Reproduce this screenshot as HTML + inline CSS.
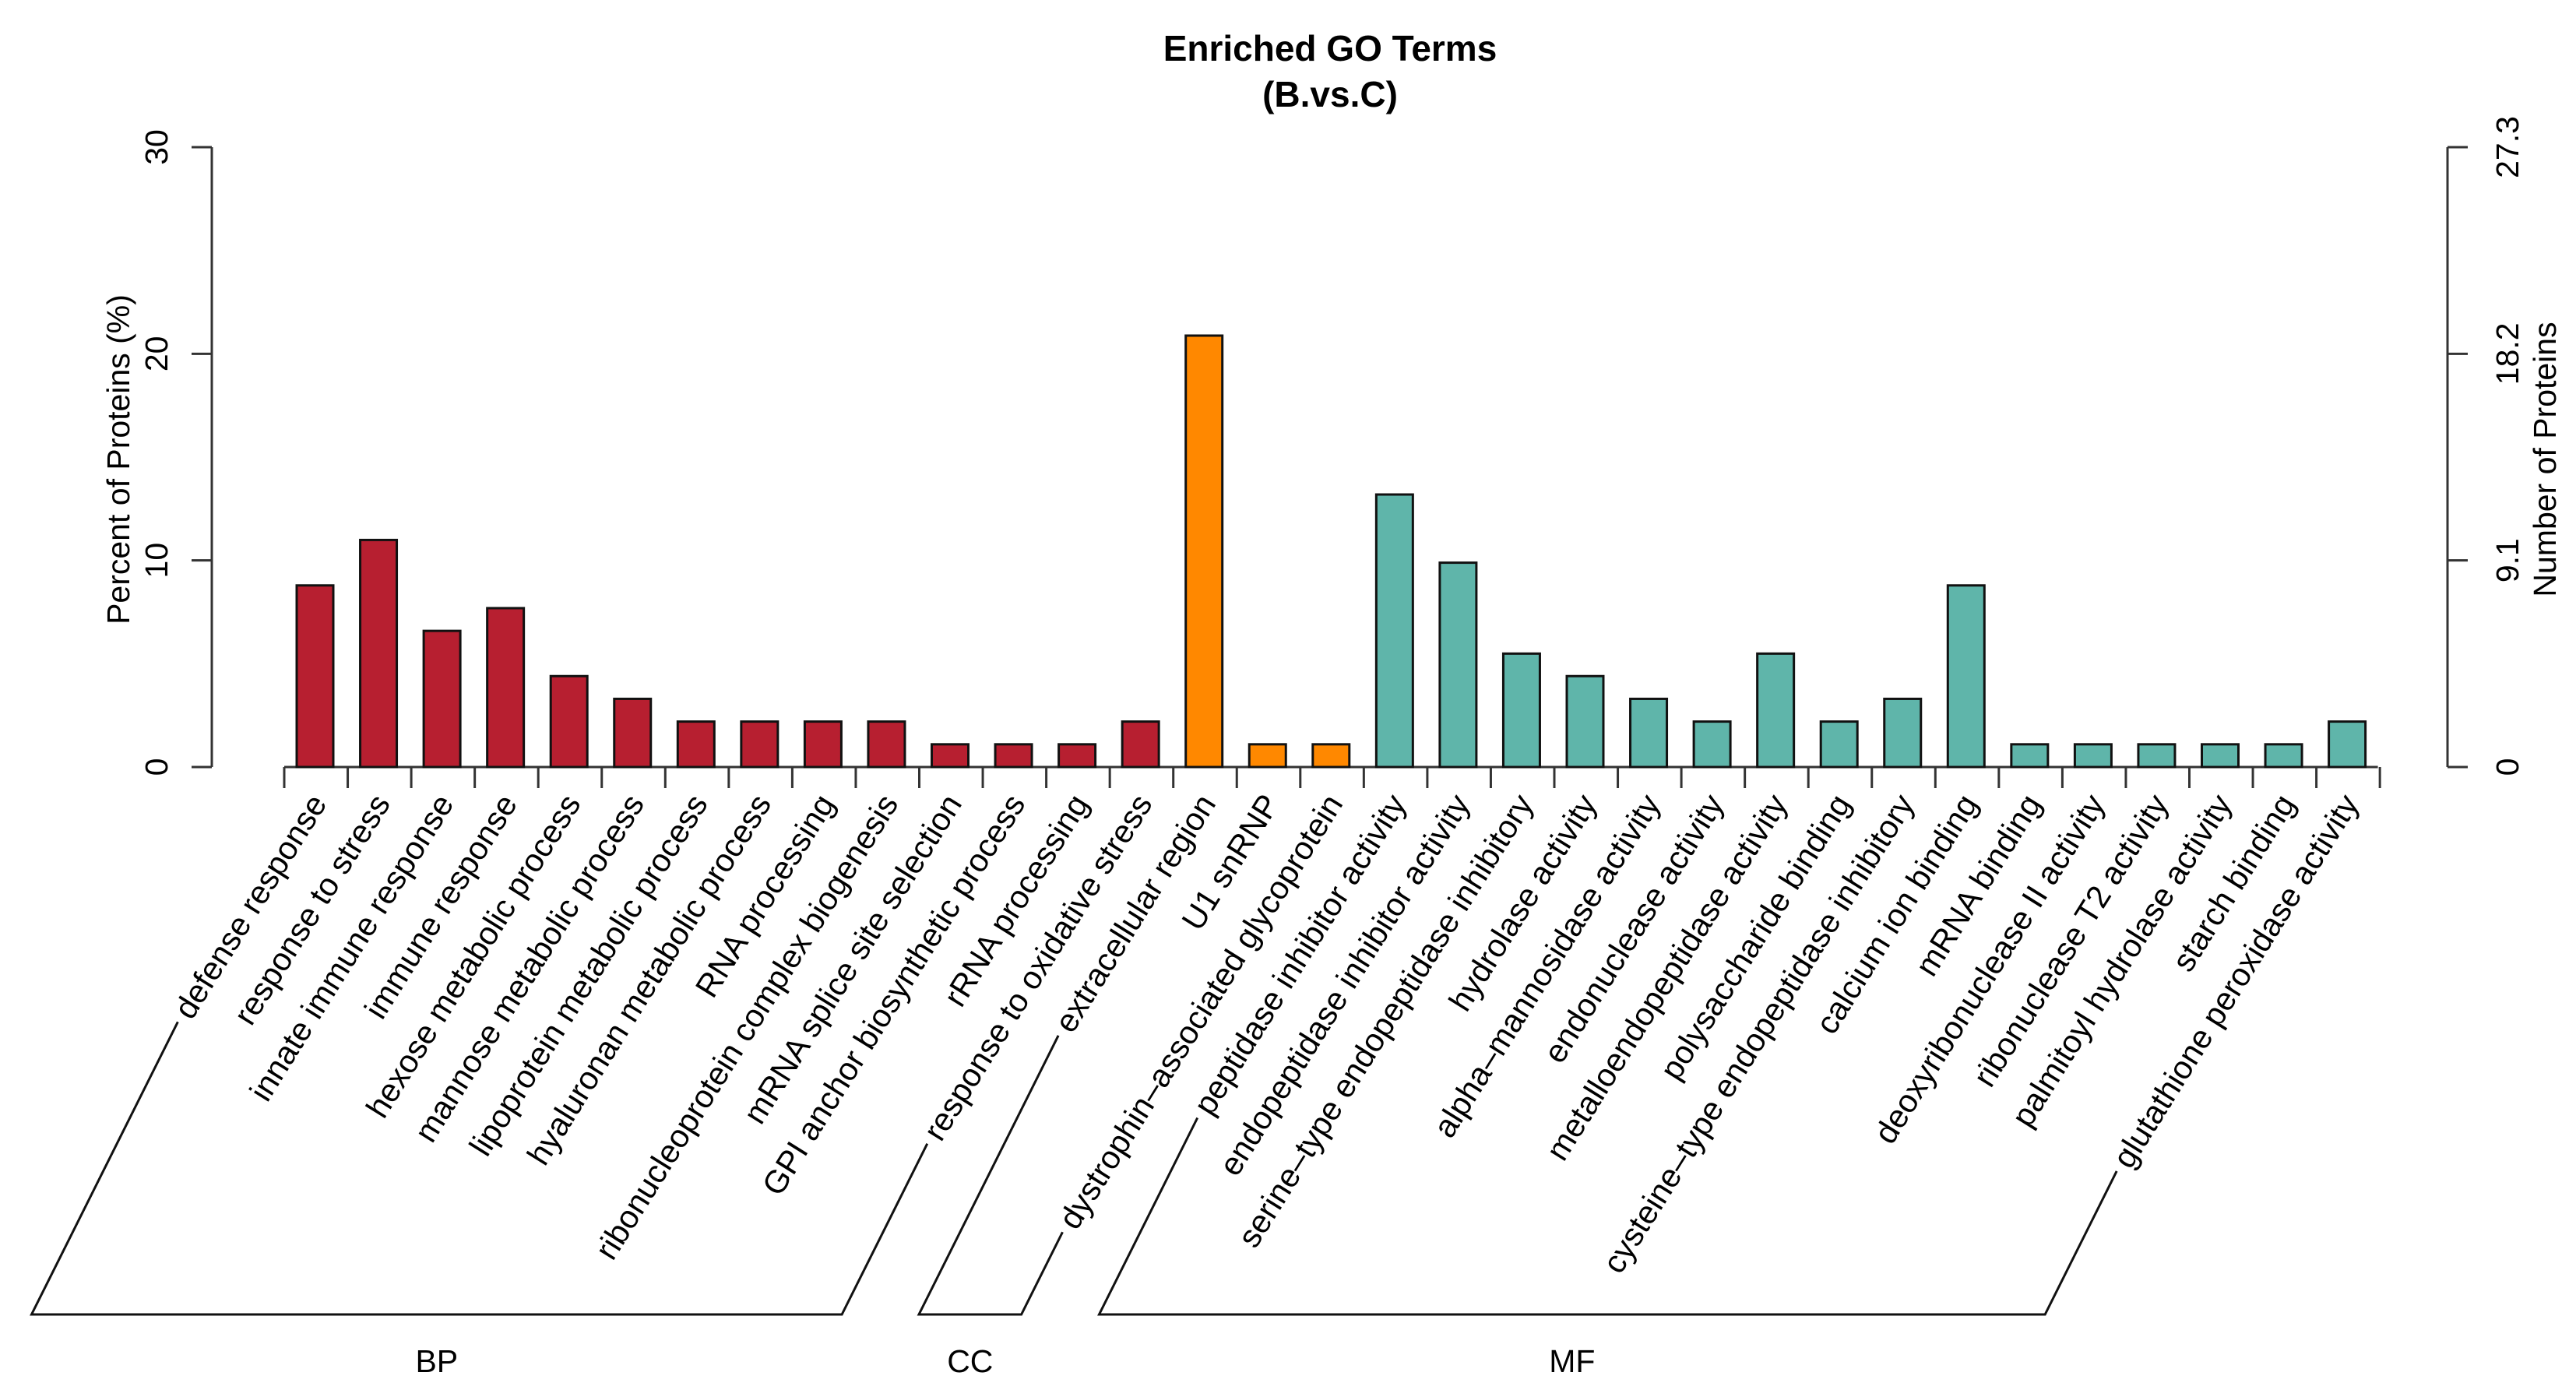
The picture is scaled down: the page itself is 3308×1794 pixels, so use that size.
<!DOCTYPE html>
<html><head><meta charset="utf-8">
<style>
html,body{margin:0;padding:0;background:#fff;}
svg{display:block;font-family:"Liberation Sans",Arial,sans-serif;}
</style></head>
<body>
<svg id="chart" width="3308" height="1794" viewBox="0 0 3308 1794">
  <text x="1708" y="78" text-anchor="middle" font-size="46" font-weight="bold">Enriched GO Terms</text>
  <text x="1708" y="137" text-anchor="middle" font-size="46" font-weight="bold">(B.vs.C)</text>
  <g id="axes"></g>
  <g id="bars"></g>
  <g id="labels"></g>
  <g id="brackets"></g>
  <text transform="translate(166,590) rotate(-90)" text-anchor="middle" font-size="41">Percent of Proteins (%)</text>
  <text transform="translate(3282,590) rotate(-90)" text-anchor="middle" font-size="41">Number of Proteins</text>
</svg>
<script>
const categories = ["defense response","response to stress","innate immune response","immune response","hexose metabolic process","mannose metabolic process","lipoprotein metabolic process","hyaluronan metabolic process","RNA processing","ribonucleoprotein complex biogenesis","mRNA splice site selection","GPI anchor biosynthetic process","rRNA processing","response to oxidative stress","extracellular region","U1 snRNP","dystrophin\u2013associated glycoprotein","peptidase inhibitor activity","endopeptidase inhibitor activity","serine\u2013type endopeptidase inhibitory","hydrolase activity","alpha\u2013mannosidase activity","endonuclease activity","metalloendopeptidase activity","polysaccharide binding","cysteine\u2013type endopeptidase inhibitory","calcium ion binding","mRNA binding","deoxyribonuclease II activity","ribonuclease T2 activity","palmitoyl hydrolase activity","starch binding","glutathione peroxidase activity"];
const groups = ["BP","BP","BP","BP","BP","BP","BP","BP","BP","BP","BP","BP","BP","BP","CC","CC","CC","MF","MF","MF","MF","MF","MF","MF","MF","MF","MF","MF","MF","MF","MF","MF","MF"];
const percentValues = [8.79,10.99,6.59,7.69,4.40,3.30,2.20,2.20,2.20,2.20,1.10,1.10,1.10,2.20,20.88,1.10,1.10,13.19,9.89,5.49,4.40,3.30,2.20,5.49,2.20,3.30,8.79,1.10,1.10,1.10,1.10,1.10,2.20];
const leftTicks = [0,10,20,30];
const rightTickLabels = ["0","9.1","18.2","27.3"];
const groupNames = ["BP","CC","MF"];

const NS = "http://www.w3.org/2000/svg";
const Y0 = 985, Y30 = 189, YMAX = 30;
const yScale = v => Y0 - (Y0 - Y30) * v / YMAX;
const X0 = 381, PITCH = 81.55, BW = 47;
const xLeft = i => X0 + i * PITCH;
const xCenter = i => xLeft(i) + BW / 2;
const colors = {BP:"#B71F30", CC:"#FF8800", MF:"#5FB5AA"};
function mk(tag, attrs, parent){ const e=document.createElementNS(NS,tag); for(const k in attrs) e.setAttribute(k,attrs[k]); parent.appendChild(e); return e; }

const axes = document.getElementById('axes');
let la = mk('line',{x1:272,y1:yScale(0),x2:272,y2:yScale(YMAX),stroke:'#333','stroke-width':3},axes);
 
leftTicks.forEach(t=>{
  const y=yScale(t);
  const tk=mk('line',{x1:246,y1:y,x2:272,y2:y,stroke:'#333','stroke-width':3},axes);
   
  const tx=mk('text',{transform:`translate(215,${y}) rotate(-90)`,'text-anchor':'middle','font-size':41},axes);
  tx.textContent=t;
   
});
let ra = mk('line',{x1:3143,y1:yScale(0),x2:3143,y2:yScale(YMAX),stroke:'#333','stroke-width':3},axes);
 
rightTickLabels.forEach((lab,i)=>{
  const y=yScale(i*YMAX/(rightTickLabels.length-1));
  const tk=mk('line',{x1:3143,y1:y,x2:3169,y2:y,stroke:'#333','stroke-width':3},axes);
   
  const tx=mk('text',{transform:`translate(3234,${y}) rotate(-90)`,'text-anchor':'middle','font-size':41},axes);
  tx.textContent=lab;
   
});
const bl = mk('line',{x1:xLeft(0)-16,y1:Y0,x2:xLeft(categories.length-1)+BW+16,y2:Y0,stroke:'#333','stroke-width':3},axes);
 
for(let i=0;i<=categories.length;i++){
  const x = xLeft(0)-16 + i*PITCH;
  const tk=mk('line',{x1:x,y1:Y0,x2:x,y2:Y0+27,stroke:'#333','stroke-width':3},axes);
   
}

const barsG=document.getElementById('bars');
percentValues.forEach((v,i)=>{
  const r=mk('rect',{x:xLeft(i),y:yScale(v),width:BW,height:Y0-yScale(v),fill:colors[groups[i]],stroke:'#111','stroke-width':3},barsG);
  
  
});

const ANG = 58;
const rad = ANG*Math.PI/180;
const labelsG=document.getElementById('labels');
const starts=[];
categories.forEach((c,i)=>{
  const ax = xCenter(i)+4, ay = 1024;
  const t=mk('text',{transform:`translate(${ax},${ay}) rotate(${-ANG})`,'text-anchor':'end','dominant-baseline':'central','font-size':41.5},labelsG);
  t.textContent=c;
  
  
  const L=t.getComputedTextLength()+10;
  starts.push([ax - L*Math.cos(rad), ay + L*Math.sin(rad)]);
});

const BY = 1688, SL = 0.5;
const brG=document.getElementById('brackets');
groupNames.forEach(g=>{
  const idx=groups.map((x,i)=>x===g?i:-1).filter(i=>i>=0);
  const a=starts[idx[0]], b=starts[idx[idx.length-1]];
  const ax2=a[0]-(BY-a[1])*SL, bx2=b[0]-(BY-b[1])*SL;
  const p=mk('polyline',{points:`${a[0]},${a[1]} ${ax2},${BY} ${bx2},${BY} ${b[0]},${b[1]}`,fill:'none',stroke:'#111','stroke-width':3},brG);
  
  
  const t=mk('text',{x:(ax2+bx2)/2,y:1762,'text-anchor':'middle','font-size':41},brG);
  t.textContent=g;
  
  
});
</script>
</body></html>
